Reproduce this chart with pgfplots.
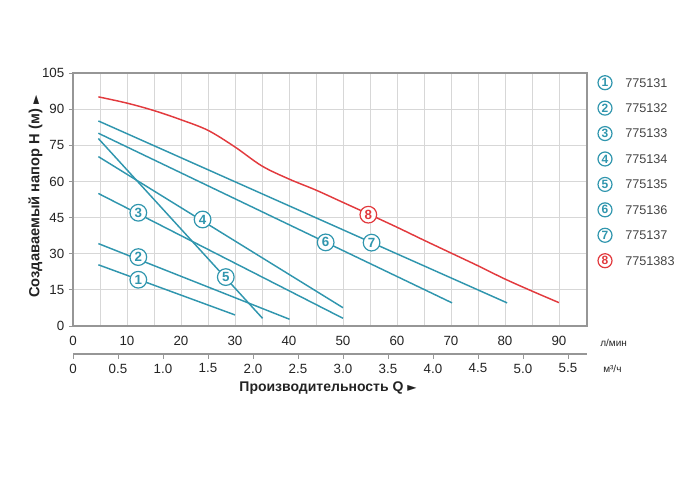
\documentclass[border=0pt]{standalone}
\usepackage{fontspec}
\setmainfont{Liberation Sans}
\newfontfamily\symfont{DejaVu Sans}
\usepackage{pgfplots}
\pgfplotsset{compat=1.18}
\definecolor{teal1}{RGB}{48,150,174}
\definecolor{red1}{RGB}{226,58,62}
\definecolor{gridc}{RGB}{215,215,215}
\definecolor{axc}{RGB}{150,150,150}
\definecolor{txt}{RGB}{35,35,35}
\tikzset{
  lbl/.style={circle,draw=#1,fill=white,line width=0.9pt,text=#1,inner sep=0pt,minimum size=12.5pt,font=\fontsize{10}{10}\selectfont\bfseries},
  lbl/.default=teal1,
  leg/.style={circle,draw=#1,fill=white,line width=0.9pt,text=#1,inner sep=0pt,minimum size=10.5pt,font=\fontsize{9}{9}\selectfont\bfseries},
  leg/.default=teal1
}
\begin{document}
\begin{tikzpicture}
\path[use as bounding box] (0,0) rectangle (525pt,367.5pt);
\begin{axis}[
  at={(54.75pt,123pt)}, anchor=south west,
  scale only axis, width=385.5pt, height=189.75pt,
  xmin=0, xmax=95.2, ymin=0, ymax=105,
  xtick={0,10,...,90}, minor xtick={5,15,...,85},
  ytick={0,15,...,105},
  grid=both,
  major grid style={gridc, line width=0.6pt},
  minor grid style={gridc, line width=0.6pt},
  axis line style={axc, line width=1pt},
  tick label style={font=\fontsize{10}{12}\selectfont, text=txt},
  /pgf/number format/assume math mode=true,
  xtick style={draw=none},
  ytick style={axc, line width=0.6pt},
  tick align=outside, major tick length=3pt,
  ytick pos=left,
  xticklabel style={yshift=-1pt},
]
\addplot[teal1, line width=1.1pt] coordinates {(4.7,25.4) (30,4.6)};
\addplot[teal1, line width=1.1pt] coordinates {(4.7,34.2) (40.1,2.8)};
\addplot[teal1, line width=1.1pt] coordinates {(4.7,55) (50,3.2)};
\addplot[teal1, line width=1.1pt] coordinates {(4.7,70.3) (50,7.6)};
\addplot[teal1, line width=1.1pt] coordinates {(4.7,77.8) (35.1,3.2)};
\addplot[teal1, line width=1.1pt] coordinates {(4.7,80) (70.2,9.6)};
\addplot[teal1, line width=1.1pt] coordinates {(4.7,85.1) (80.4,9.6)};
\addplot[red1, line width=1.1pt, smooth, tension=0.55] coordinates {
 (4.7,95.1) (10,92.5) (15,89.4) (20,85.6) (25,81.2) (30,74.3) (35,66.4)
 (40,61) (45,56.4) (50,51.3) (55,46.2) (60,41) (65,35.6) (70,30.3) (75,25)
 (80,19.5) (85,14.5) (90,9.7)};
\node[lbl] at (axis cs:12.1,19.2) {1};
\node[lbl] at (axis cs:12.1,28.6) {2};
\node[lbl] at (axis cs:12.1,47) {3};
\node[lbl] at (axis cs:24,44.2) {4};
\node[lbl] at (axis cs:28.3,20.3) {5};
\node[lbl] at (axis cs:46.8,34.7) {6};
\node[lbl] at (axis cs:55.3,34.6) {7};
\node[lbl=red1] at (axis cs:54.7,46.2) {8};
\end{axis}
\begin{axis}[
  at={(54.75pt,102pt)}, anchor=south west,
  scale only axis, width=385.5pt, height=1pt,
  xmin=0, xmax=5.712, ymin=0, ymax=1,
  axis x line=bottom, axis y line=none,
  x axis line style={-, axc, line width=0.9pt},
  xtick={0,0.5,...,5.5},
  xticklabels={0,0.5,1.0,1.5,2.0,2.5,3.0,3.5,4.0,4.5,5.0,5.5},
  xtick style={axc, line width=0.6pt},
  tick align=outside, major tick length=3.75pt,
  tick label style={font=\fontsize{10}{12}\selectfont, text=txt},
]
\addplot[draw=none] coordinates {(0,0)};
\end{axis}
% axis titles
\node[rotate=90, font=\fontsize{11}{12}\selectfont\bfseries, text=txt] at (26.5pt,220pt) {Создаваемый напор H (м)\ {\symfont\fontsize{9}{10}\selectfont ►}};
\node[font=\fontsize{10.5}{12}\selectfont\bfseries, text=txt] at (246pt,76.5pt) {Производительность Q\ {\symfont\fontsize{9}{10}\selectfont ►}};
\node[anchor=west, font=\fontsize{7.5}{9}\selectfont, text=txt, inner sep=0pt] at (450pt,110.25pt) {л/мин};
\node[anchor=west, font=\fontsize{7.5}{9}\selectfont, text=txt, inner sep=0pt] at (452.25pt,90.75pt) {м³/ч};
% legend
\foreach \i/\t in {0/775131,1/775132,2/775133,3/775134,4/775135,5/775136,6/775137}{
  \pgfmathsetmacro{\yy}{0.75*(490-82.7-25.43*\i)}
  \node[leg] at (453.75pt,\yy pt) {\the\numexpr\i+1\relax};
  \node[anchor=west, inner sep=0pt, font=\fontsize{9.5}{11}\selectfont, text=txt!85] at (468.75pt,\yy pt) {\t};
}
\pgfmathsetmacro{\yy}{0.75*(490-82.7-25.43*7)}
\node[leg=red1] at (453.75pt,\yy pt) {8};
\node[anchor=west, inner sep=0pt, font=\fontsize{9.5}{11}\selectfont, text=txt!85] at (468.75pt,\yy pt) {7751383};
\end{tikzpicture}
\end{document}
